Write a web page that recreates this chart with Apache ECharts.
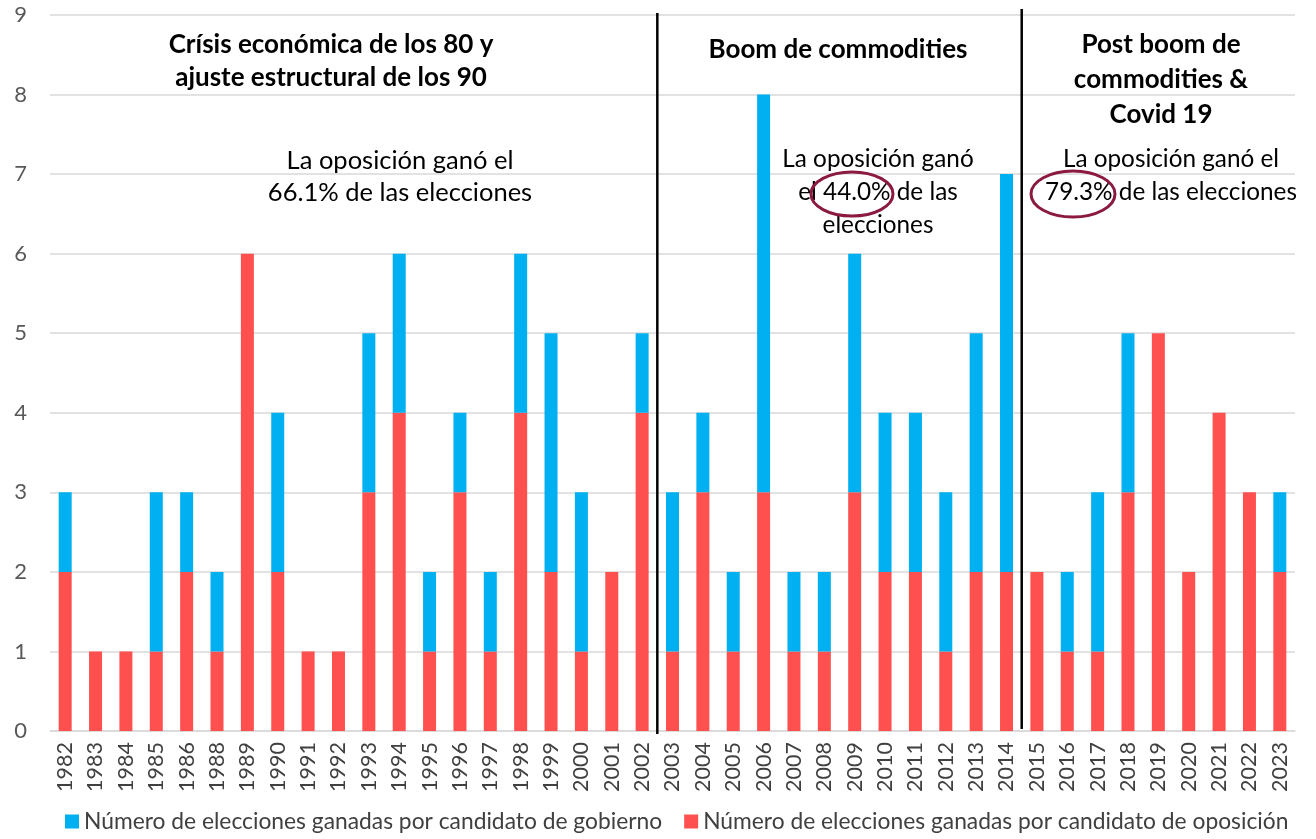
<!DOCTYPE html>
<html>
<head>
<meta charset="utf-8">
<script src="https://cdn.jsdelivr.net/npm/echarts@6/dist/echarts.min.js"></script>
<style>
  html, body { margin: 0; padding: 0; background: #fff; }
  #chart { width: 1316px; height: 839px; }
</style>
</head>
<body>
<div id="chart"></div>
<script>
// Election years (1987 had no elections)
const years = ['1982','1983','1984','1985','1986','1988','1989','1990','1991','1992','1993','1994','1995','1996','1997','1998','1999','2000','2001','2002',
  '2003','2004','2005','2006','2007','2008','2009','2010','2011','2012','2013','2014',
  '2015','2016','2017','2018','2019','2020','2021','2022','2023'];

// Elections won by the opposition candidate
const opposition = [2,1,1,1,2,1,6,2,1,1,3,4,1,3,1,4,2,1,2,4,
  1,3,1,3,1,1,3,2,2,1,2,2,
  2,1,1,3,5,2,4,3,2];

// Elections won by the government candidate
const government = [1,0,0,2,1,1,0,2,0,0,2,2,1,1,1,2,3,2,0,1,
  2,1,1,5,1,1,3,2,2,2,3,5,
  0,1,2,2,0,0,0,0,1];

const yTicks = [0,1,2,3,4,5,6,7,8,9];

// Period boundaries: last year of each period before a divider
const dividersAfter = ['2002','2014'];

const govName = 'Número de elecciones ganadas por candidato de gobierno';
const oppName = 'Número de elecciones ganadas por candidato de oposición';

const FONT = 'Lato, "Open Sans", sans-serif';

const chart = echarts.init(document.getElementById('chart'));

const option = {
  animation: false,
  textStyle: { fontFamily: FONT },
  grid: { left: 50, right: 21, top: 15, bottom: 108 },
  legend: {
    bottom: 1,
    left: 60,
    data: [govName, oppName],
    icon: 'rect',
    itemWidth: 14,
    itemHeight: 14,
    itemGap: 22,
    textStyle: { fontSize: 22.8, color: '#404040', fontFamily: FONT }
  },
  xAxis: {
    type: 'category',
    data: years,
    axisLine: { lineStyle: { color: '#d9d9d9', width: 1.5 } },
    axisTick: { show: false },
    axisLabel: { rotate: 90, fontSize: 21.5, color: '#404040', margin: 11, interval: 0, fontFamily: FONT }
  },
  yAxis: {
    type: 'value',
    min: yTicks[0],
    max: yTicks[yTicks.length - 1],
    interval: 1,
    axisLine: { show: false },
    axisTick: { show: false },
    axisLabel: { fontSize: 22, color: '#595959', margin: 23, fontFamily: FONT },
    splitLine: { lineStyle: { color: '#d9d9d9', width: 1.5 } }
  },
  series: [
    {
      name: oppName,
      type: 'bar',
      stack: 'total',
      data: opposition,
      barWidth: 13,
      itemStyle: { color: '#ff5050' }
    },
    {
      name: govName,
      type: 'bar',
      stack: 'total',
      data: government,
      barWidth: 13,
      itemStyle: { color: '#00b0f0' }
    }
  ]
};

chart.setOption(option);

// Dividers between periods, placed halfway between neighbouring categories
const graphics = [];
dividersAfter.forEach(function (y, k) {
  const i = years.indexOf(y);
  const x0 = chart.convertToPixel({ xAxisIndex: 0 }, years[i]);
  const x1 = chart.convertToPixel({ xAxisIndex: 0 }, years[i + 1]);
  const xm = (x0 + x1) / 2;
  const yTop = chart.convertToPixel({ yAxisIndex: 0 }, yTicks[yTicks.length - 1]);
  const yBot = chart.convertToPixel({ yAxisIndex: 0 }, 0);
  graphics.push({
    type: 'line',
    shape: { x1: xm, y1: yTop + (k === 0 ? -2 : -6), x2: xm, y2: yBot + (k === 0 ? 3 : -2) },
    style: { stroke: '#000', lineWidth: 2.5 },
    z: 10
  });
});

const titleFont = 'bold 26px ' + FONT;

function txt(text, x, y, font, lh) {
  return {
    type: 'text',
    x: x, y: y,
    style: { text: text, font: font, fill: '#000', align: 'center', verticalAlign: 'top', lineHeight: lh },
    z: 20
  };
}

graphics.push(txt('Crísis económica de los 80 y\najuste estructural de los 90', 331, 28, titleFont, 33));
graphics.push(txt('Boom de commodities', 838, 33, titleFont, 33));
graphics.push(txt('Post boom de\ncommodities &\nCovid 19', 1161, 27, titleFont, 35));

graphics.push(txt('La oposición ganó el\n66.1% de las elecciones', 400, 145, '25.5px ' + FONT, 32));
graphics.push(txt('La oposición ganó\nel 44.0% de las\nelecciones', 878, 143, '24.3px ' + FONT, 33));
graphics.push(txt('La oposición ganó el\n79.3% de las elecciones', 1171, 143, '24.3px ' + FONT, 33));

// Highlight rings around the two percentages
graphics.push({
  type: 'ellipse',
  shape: { cx: 852, cy: 194, rx: 41, ry: 22 },
  style: { fill: 'none', stroke: '#8b1a3e', lineWidth: 3 },
  z: 21
});
graphics.push({
  type: 'ellipse',
  shape: { cx: 1073, cy: 194, rx: 42, ry: 23 },
  style: { fill: 'none', stroke: '#8b1a3e', lineWidth: 3 },
  z: 21
});

chart.setOption({ graphic: graphics });
</script>
</body>
</html>
